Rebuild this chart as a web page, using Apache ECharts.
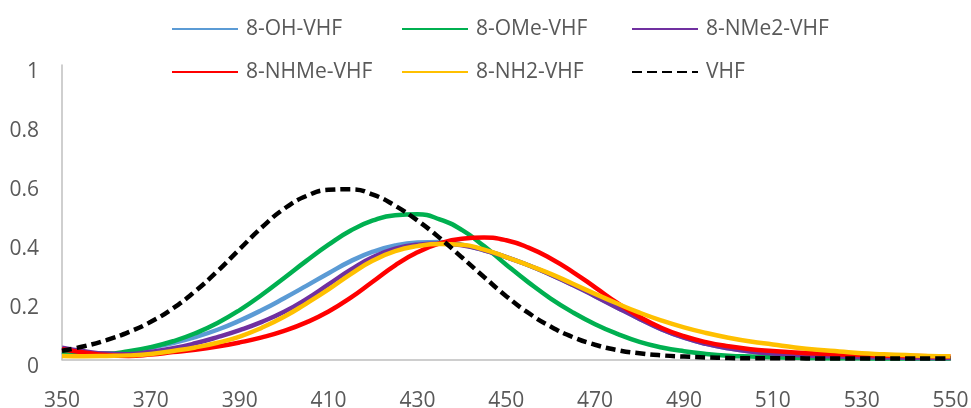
<!DOCTYPE html>
<html>
<head>
<meta charset="utf-8">
<script src="https://cdn.jsdelivr.net/npm/echarts@6/dist/echarts.min.js"></script>
<style>
  html, body { margin: 0; padding: 0; background: #fff; }
  #main { width: 971px; height: 408px; }
</style>
</head>
<body>
<div id="main"></div>
<script>
// wavelengths, nm
const wavelengths = [350, 355, 360, 365, 370, 375, 380, 385, 390, 395, 400, 405, 410, 415, 420, 425, 430, 435, 440, 445, 450,
  455, 460, 465, 470, 475, 480, 485, 490, 495, 500, 505, 510, 515, 520, 525, 530, 535, 540, 545, 550];

const ohVHF = [0.028, 0.02, 0.018, 0.024, 0.04, 0.056, 0.076, 0.101, 0.132, 0.168, 0.208, 0.25, 0.293, 0.334, 0.366, 0.387, 0.397, 0.399, 0.39, 0.371, 0.348,
  0.32, 0.288, 0.253, 0.215, 0.176, 0.138, 0.102, 0.074, 0.053, 0.038, 0.027, 0.02, 0.015, 0.012, 0.01, 0.008, 0.007, 0.006, 0.005, 0.005];
const omeVHF = [0.025, 0.02, 0.02, 0.028, 0.042, 0.062, 0.089, 0.124, 0.168, 0.22, 0.277, 0.335, 0.39, 0.438, 0.472, 0.49, 0.493, 0.476, 0.44, 0.385, 0.322,
  0.262, 0.207, 0.16, 0.12, 0.087, 0.06, 0.041, 0.028, 0.019, 0.013, 0.01, 0.008, 0.006, 0.005, 0.004, 0.004, 0.003, 0.003, 0.003, 0.003];
const nme2VHF = [0.04, 0.028, 0.02, 0.018, 0.026, 0.038, 0.055, 0.076, 0.1, 0.128, 0.162, 0.205, 0.255, 0.305, 0.348, 0.376, 0.39, 0.394, 0.388, 0.371, 0.348,
  0.32, 0.288, 0.253, 0.215, 0.176, 0.138, 0.102, 0.074, 0.053, 0.038, 0.027, 0.02, 0.015, 0.012, 0.01, 0.008, 0.007, 0.006, 0.005, 0.005];
const nhmeVHF = [0.035, 0.024, 0.015, 0.012, 0.017, 0.025, 0.033, 0.044, 0.058, 0.075, 0.097, 0.126, 0.163, 0.21, 0.265, 0.32, 0.364, 0.394, 0.41, 0.414, 0.405,
  0.38, 0.343, 0.297, 0.245, 0.192, 0.145, 0.107, 0.079, 0.059, 0.045, 0.035, 0.029, 0.024, 0.02, 0.017, 0.015, 0.013, 0.012, 0.011, 0.01];
const nh2VHF = [0.012, 0.011, 0.012, 0.014, 0.019, 0.029, 0.041, 0.057, 0.078, 0.108, 0.145, 0.19, 0.238, 0.29, 0.336, 0.368, 0.385, 0.392, 0.39, 0.373, 0.348,
  0.32, 0.291, 0.257, 0.223, 0.19, 0.159, 0.132, 0.109, 0.09, 0.074, 0.061, 0.051, 0.041, 0.033, 0.027, 0.021, 0.018, 0.015, 0.012, 0.011];
const vhf = [0.03, 0.045, 0.066, 0.093, 0.128, 0.174, 0.232, 0.3, 0.375, 0.449, 0.512, 0.555, 0.576, 0.578, 0.56, 0.522, 0.472, 0.413, 0.347, 0.28, 0.215,
  0.158, 0.112, 0.076, 0.05, 0.032, 0.021, 0.014, 0.01, 0.007, 0.005, 0.004, 0.004, 0.004, 0.003, 0.003, 0.003, 0.003, 0.003, 0.003, 0.003];

const seriesDefs = [
  { name: '8-OH-VHF', values: ohVHF, color: '#5B9BD5' },
  { name: '8-OMe-VHF', values: omeVHF, color: '#00B050' },
  { name: '8-NMe2-VHF', values: nme2VHF, color: '#7030A0' },
  { name: '8-NHMe-VHF', values: nhmeVHF, color: '#FF0000' },
  { name: '8-NH2-VHF', values: nh2VHF, color: '#FFC000' },
  { name: 'VHF', values: vhf, color: '#000000', dashed: true },
];

const font = "'Open Sans', sans-serif";
const textColor = '#595959';

const chartSeries = seriesDefs.map((s) => ({
  name: s.name,
  type: 'line',
  smooth: true,
  symbol: 'none',
  data: wavelengths.map((w, i) => [w, s.values[i]]),
  itemStyle: { color: s.color },
  lineStyle: {
    color: s.color,
    width: 4.5,
    type: s.dashed ? [10, 5] : 'solid',
    cap: 'butt',
  },
}));

const legendBase = {
  left: 171,
  padding: 0,
  orient: 'horizontal',
  itemWidth: 66,
  itemHeight: 14,
  itemGap: 7,
  itemStyle: { opacity: 0 },
  textStyle: {
    fontFamily: font,
    fontSize: 21,
    color: textColor,
    width: 148,
    lineHeight: 24,
    padding: [0, 0, 0, 3],
  },
};

const myChart = echarts.init(document.getElementById('main'));

const option = {
  animation: false,
  backgroundColor: '#fff',
  legend: [
    { ...legendBase, top: 17, data: ['8-OH-VHF', '8-OMe-VHF', '8-NMe2-VHF'] },
    { ...legendBase, top: 60, data: ['8-NHMe-VHF', '8-NH2-VHF', 'VHF'] },
  ],
  grid: { left: 62, right: 20.5, top: 65, bottom: 48.5, containLabel: false, outerBoundsMode: 'none' },
  xAxis: {
    type: 'value',
    min: 350,
    max: 550,
    interval: 20,
    axisLine: { lineStyle: { color: '#BFBFBF', width: 1.5 } },
    axisTick: { show: false },
    splitLine: { show: false },
    axisLabel: { fontFamily: font, fontSize: 21, color: textColor, margin: 31 },
  },
  yAxis: {
    type: 'value',
    min: 0,
    max: 1,
    interval: 0.2,
    axisLine: { show: true, lineStyle: { color: '#BFBFBF', width: 1.5 } },
    axisTick: { show: false },
    splitLine: { show: false },
    axisLabel: {
      fontFamily: font,
      fontSize: 21,
      color: textColor,
      margin: 23,
      verticalAlign: 'top',
      lineHeight: 15,
    },
  },
  series: chartSeries,
};

myChart.setOption(option);
</script>
</body>
</html>
